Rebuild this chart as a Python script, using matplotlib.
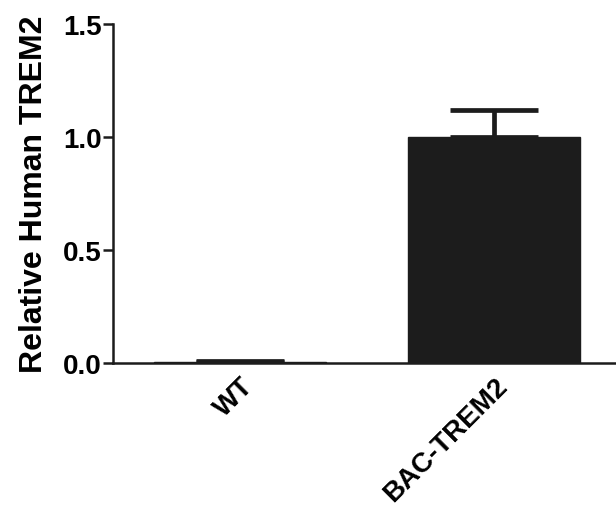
import matplotlib.pyplot as plt
import matplotlib.transforms as mtransforms
import numpy as np

# Groups and values
groups = ['WT', 'BAC-TREM2']
means = [0.005, 1.0]
sem = [0.003, 0.12]

plt.rcParams['font.family'] = ['Liberation Sans', 'DejaVu Sans']
plt.rcParams['font.weight'] = 'bold'

fig = plt.figure(figsize=(6.16, 5.10), dpi=100)
ax = fig.add_axes([0.1834, 0.2863, 0.8247, 0.6647])

x = np.arange(len(groups))
dark = '#1c1c1c'
ax.bar(x, means, width=0.68, color=dark, edgecolor=dark, linewidth=1, zorder=2)
ax.errorbar(x, means, yerr=[np.zeros(len(sem)), sem], fmt='none', ecolor=dark,
            elinewidth=3.4, capsize=31.5, capthick=3.4, zorder=1)

ax.set_xlim(-0.5, 1.5)
ax.set_ylim(0, 1.5)
ax.set_yticks([0.0, 0.5, 1.0, 1.5])
ax.set_yticklabels(['0.0', '0.5', '1.0', '1.5'])
ax.set_xticks(x)
ax.set_xticklabels(groups, rotation=45, ha='right', rotation_mode='anchor')
# shift the rotated labels a bit to the left
offset = mtransforms.ScaledTranslation(-8 / 100, 0, fig.dpi_scale_trans)
for lbl in ax.get_xticklabels():
    lbl.set_transform(lbl.get_transform() + offset)

for s in ['top', 'right']:
    ax.spines[s].set_visible(False)
for s in ['left', 'bottom']:
    ax.spines[s].set_linewidth(1.8)
    ax.spines[s].set_color(dark)

ax.tick_params(axis='y', length=7, width=1.8, color=dark, labelsize=20, pad=1)
ax.tick_params(axis='x', length=0, labelsize=20, pad=7)
ax.set_ylabel('Relative Human TREM2', fontsize=23, fontweight='bold', labelpad=10)

fig.savefig('out.png', dpi=100)
